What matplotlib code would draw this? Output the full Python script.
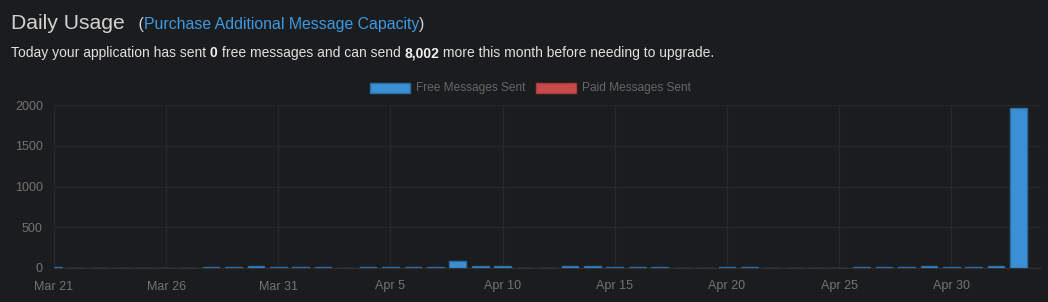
import numpy as np
import pandas as pd
import matplotlib
matplotlib.use("Agg")
import matplotlib.pyplot as plt
from matplotlib.patches import Rectangle

plt.rcParams['font.family'] = ['Liberation Sans', 'DejaVu Sans']

dates = pd.date_range("2025-03-21", "2025-05-03", freq="D")
free_sent = [10, 0, 0, 3, 6, 0, 0, 10, 8, 25, 12,
             8, 8, 6, 8, 12, 12, 12, 80, 20, 20, 3,
             0, 20, 30, 15, 10, 10, 0, 4, 10, 18, 3,
             0, 0, 0, 7, 12, 15, 25, 18, 15, 20, 1960]
paid_sent = [0] * len(free_sent)
tick_every = 5
y_ticks = [0, 500, 1000, 1500, 2000]

BG = '#1b1c1e'
BLUE = '#3a8fd5'
BLUE_EDGE = '#2b6da4'
RED = '#c94a4a'
TICK_C = '#737373'
GRID_C = '#26272a'

fig = plt.figure(figsize=(10.48, 3.02), dpi=100, facecolor=BG)
ax = fig.add_axes([54/1048, 1-268/302, (1041-54)/1048, (268-105)/302])
ax.set_facecolor(BG)

x = np.arange(len(dates))
ax.bar(x, free_sent, width=0.74, color=BLUE, edgecolor=BLUE_EDGE, linewidth=1, zorder=3)
ax.bar(x, paid_sent, bottom=free_sent, width=0.74, color=RED, edgecolor=RED, linewidth=0, zorder=3)

ax.set_xlim(0, len(dates))
ax.set_ylim(0, 2000)
ticks = x[::tick_every]
ax.set_xticks(ticks)
ax.set_xticklabels([d.strftime('%b ') + str(d.day) for d in dates[::tick_every]])
ax.set_yticks(y_ticks)
ax.tick_params(axis='both', length=0, colors=TICK_C, labelsize=9)
ax.tick_params(axis='x', pad=9)
ax.tick_params(axis='y', pad=8)
ax.grid(True, color=GRID_C, linewidth=1, zorder=0)
for s in ['top', 'right']:
    ax.spines[s].set_visible(False)
ax.spines['left'].set_color(GRID_C)
ax.spines['bottom'].set_color('#303134')

# Legend (manual, chart.js style)
fig.patches.append(Rectangle((370/1048, 1-93/302), 40/1048, 10/302, transform=fig.transFigure,
                             facecolor=BLUE, edgecolor=BLUE_EDGE, linewidth=1))
fig.text(416/1048, 1-88/302, 'Free Messages Sent', color='#666666', fontsize=8.6, va='center', ha='left')
fig.patches.append(Rectangle((536/1048, 1-93/302), 40/1048, 10/302, transform=fig.transFigure,
                             facecolor=RED, edgecolor='#a83c3c', linewidth=1))
fig.text(582/1048, 1-88/302, 'Paid Messages Sent', color='#666666', fontsize=8.6, va='center', ha='left')

# Header texts
fig.canvas.draw()
renderer = fig.canvas.get_renderer()

def text_width(txt, kw):
    t1 = fig.text(0, 0, '|' + txt + '|', **kw)
    t2 = fig.text(0, 0, '||', **kw)
    w = t1.get_window_extent(renderer=renderer).width - t2.get_window_extent(renderer=renderer).width
    t1.remove(); t2.remove()
    return w

def put_run(pieces, x0, y):
    xpos = x0
    for txt, kw in pieces:
        fig.text(xpos/1048, 1-y/302, txt, va='baseline', ha='left', **kw)
        xpos += text_width(txt, kw)

put_run([("Daily Usage", dict(color='#d2d2d2', fontsize=15.2)),
         ("   (", dict(color='#d2d2d2', fontsize=11.5)),
         ("Purchase Additional Message Capacity", dict(color='#3d98e0', fontsize=11.4)),
         (")", dict(color='#d2d2d2', fontsize=11.5))], 11, 29)

put_run([("Today your application has sent ", dict(color='#e0e0e0', fontsize=10)),
         ("0", dict(color='#f0f0f0', fontsize=10, fontweight='bold')),
         (" free messages and can send ", dict(color='#e0e0e0', fontsize=10)),
         ("8,002", dict(color='#f0f0f0', fontsize=10, fontweight='bold')),
         (" more this month before needing to upgrade.", dict(color='#e0e0e0', fontsize=10))], 11, 57)

fig.savefig('out.png', dpi=100, facecolor=BG)
